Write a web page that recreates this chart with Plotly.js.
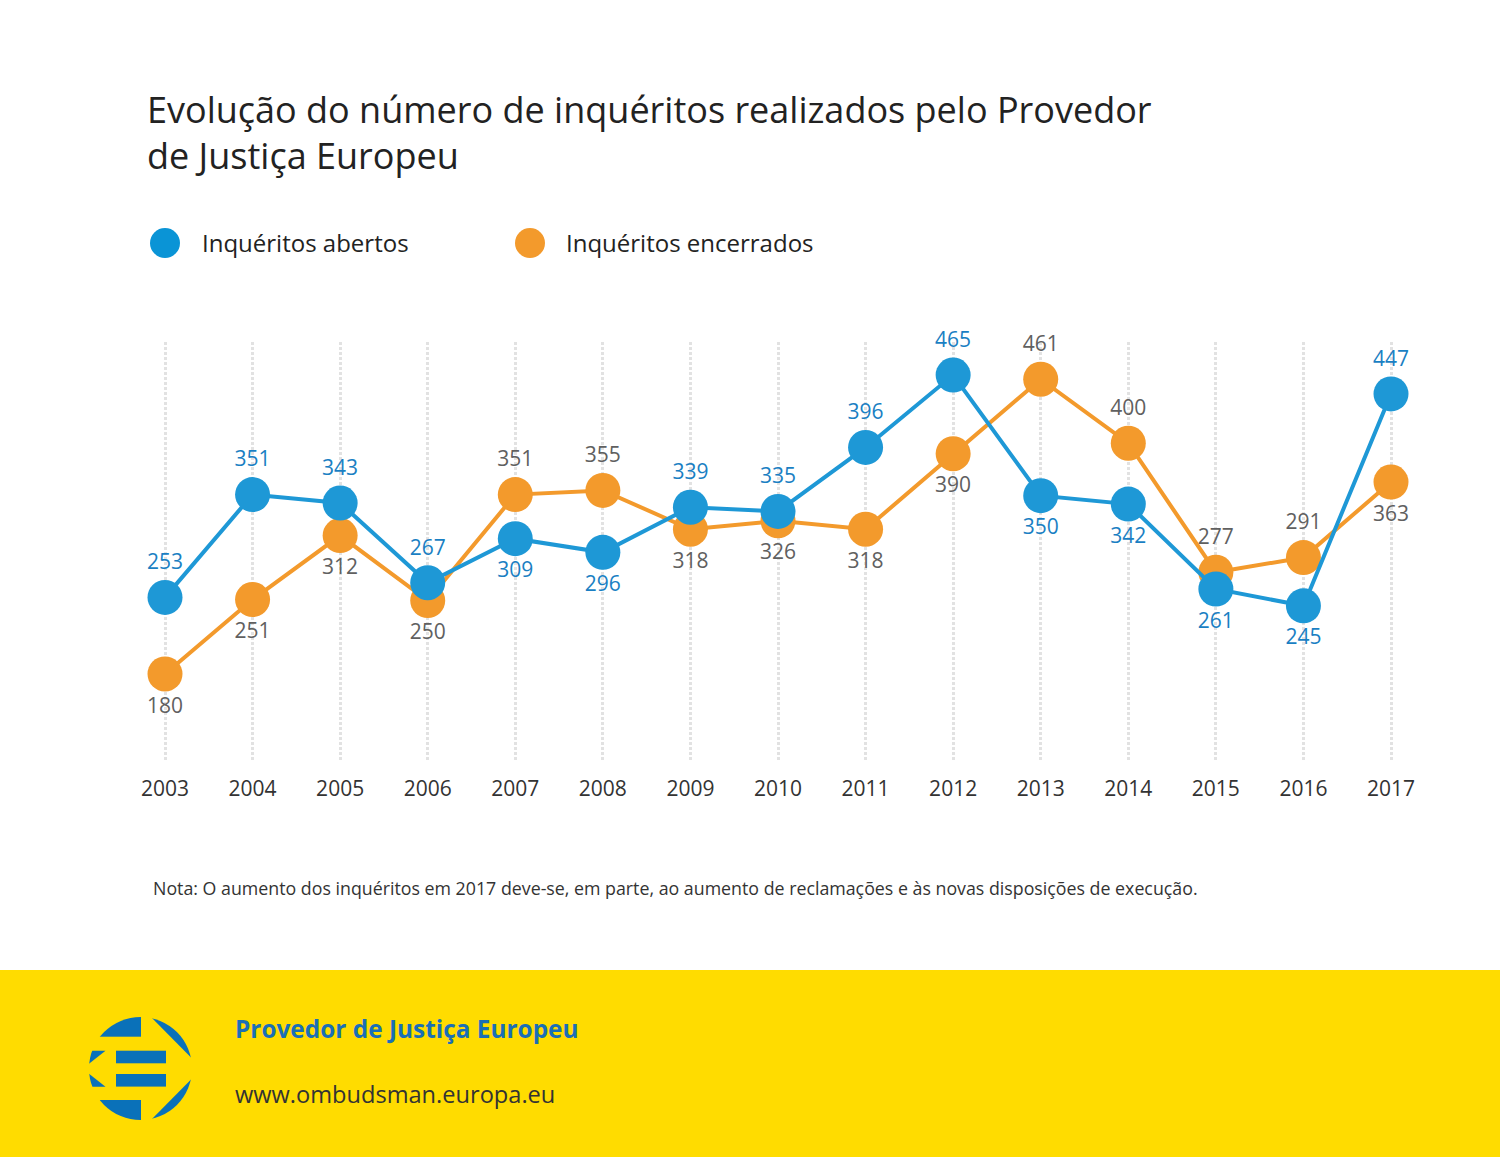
<!DOCTYPE html>
<html>
<head>
<meta charset="utf-8">
<script src="https://cdn.plot.ly/plotly-3.0.1.min.js"></script>
<style>
html,body{margin:0;padding:0;background:#fff;}
#wrap{position:relative;width:1500px;height:1157px;}
#chart{position:absolute;left:0;top:0;width:1500px;height:1157px;}
#logo{position:absolute;left:0;top:0;pointer-events:none;}
</style>
</head>
<body>
<div id="wrap">
<div id="chart"></div>
<svg id="logo" width="1500" height="1157" viewBox="0 0 1500 1157">
  <defs><clipPath id="circ"><circle cx="140.5" cy="1068.5" r="51.5"/></clipPath></defs>
  <g clip-path="url(#circ)" fill="#0a71b9">
    <rect x="85" y="1012" width="56" height="24.7"/>
    <polygon points="146,1012 200,1012 200,1066.5"/>
    <polygon points="146,1125 200,1125 200,1070.5"/>
    <rect x="85" y="1100" width="56" height="26"/>
    <rect x="116" y="1050.7" width="50" height="12.6"/>
    <rect x="116" y="1074" width="50" height="12.6"/>
    <polygon points="85,1050.7 105.5,1050.7 85,1067"/>
    <polygon points="85,1086.7 105.5,1086.7 85,1070.5"/>
  </g>
</svg>
</div>
<script>
const years = [2003,2004,2005,2006,2007,2008,2009,2010,2011,2012,2013,2014,2015,2016,2017];
const opened = [253,351,343,267,309,296,339,335,396,465,350,342,261,245,447];
const closed = [180,251,312,250,351,355,318,326,318,390,461,400,277,291,363];
const openedPos = ['top center','top center','top center','top center','bottom center','bottom center','top center','top center','top center','top center','bottom center','bottom center','bottom center','bottom center','top center'];
const closedPos = ['bottom center','bottom center','bottom center','bottom center','top center','top center','bottom center','bottom center','bottom center','bottom center','top center','top center','top center','top center','bottom center'];
const seriesNames = ['Inquéritos abertos','Inquéritos encerrados'];

const W = 1500, H = 1157;
const M = {l:140, r:84, t:342, b:397};
const pw = W - M.l - M.r, ph = H - M.t - M.b;
const px = x => (x - M.l) / pw;
const py = y => (H - M.b - y) / ph;

const BLUE = '#1e98d6', ORANGE = '#f39a2c';
const FONT = '"Open Sans", "Noto Sans", sans-serif';

const traces = [
  {x: years, y: closed, type:'scatter', mode:'lines+markers+text', name: seriesNames[1],
   line:{color:ORANGE, width:4}, marker:{color:ORANGE, size:35},
   text: closed.map(String), textposition: closedPos,
   textfont:{family:FONT, size:21, color:'#606060'}, cliponaxis:false, hoverinfo:'x+y'},
  {x: years, y: opened, type:'scatter', mode:'lines+markers+text', name: seriesNames[0],
   line:{color:BLUE, width:4}, marker:{color:BLUE, size:35},
   text: opened.map(String), textposition: openedPos,
   textfont:{family:FONT, size:21, color:'#1a7fc3'}, cliponaxis:false, hoverinfo:'x+y'}
];

const layout = {
  width: W, height: H,
  margin: M,
  paper_bgcolor:'#ffffff', plot_bgcolor:'#ffffff',
  showlegend:false,
  font:{family:FONT, color:'#222'},
  title:{text:'Evolução do número de inquéritos realizados pelo Provedor<br>de Justiça Europeu',
    font:{family:FONT, size:36, weight:500, color:'#222222'},
    xref:'container', yref:'container', x:147/W, xanchor:'left', y:1-122.5/H, yanchor:'middle'},
  xaxis:{range:[2003-25/87.57, 2017+25/87.57], tickvals: years, ticktext: years.map(String),
    showgrid:true, gridcolor:'#e2e2e2', gridwidth:3, griddash:'3px,2px',
    zeroline:false, showline:false, ticks:'outside', ticklen:10, tickcolor:'rgba(0,0,0,0)',
    tickfont:{family:FONT, size:21, color:'#333333'}, fixedrange:true},
  yaxis:{range:[98, 496.5], showgrid:false, zeroline:false, showline:false,
    showticklabels:false, ticks:'', fixedrange:true},
  shapes:[
    {type:'circle', xref:'paper', yref:'paper', x0:px(150), x1:px(180), y0:py(258), y1:py(228),
     fillcolor:'#0a94d6', line:{width:0}},
    {type:'circle', xref:'paper', yref:'paper', x0:px(515), x1:px(545), y0:py(258), y1:py(228),
     fillcolor:'#f39a2c', line:{width:0}},
    {type:'rect', xref:'paper', yref:'paper', x0:px(0), x1:px(1500), y0:py(1157), y1:py(970),
     fillcolor:'#ffdc00', line:{width:0}, layer:'below'}
  ],
  annotations:[
    {text:seriesNames[0], xref:'paper', yref:'paper', x:px(200), y:py(243), xanchor:'left', yanchor:'middle',
     showarrow:false, font:{family:FONT, size:24, color:'#222222'}},
    {text:seriesNames[1], xref:'paper', yref:'paper', x:px(564), y:py(243), xanchor:'left', yanchor:'middle',
     showarrow:false, font:{family:FONT, size:24, color:'#222222'}},
    {text:'Nota: O aumento dos inquéritos em 2017 deve-se, em parte, ao aumento de reclamações e às novas disposições de execução.',
     xref:'paper', yref:'paper', x:px(151), y:py(888), xanchor:'left', yanchor:'middle',
     showarrow:false, font:{family:FONT, size:17.8, color:'#333333'}},
    {text:'<b>Provedor de Justiça Europeu</b>', xref:'paper', yref:'paper', x:px(233), y:py(1028), xanchor:'left', yanchor:'middle',
     showarrow:false, font:{family:FONT, size:24.4, color:'#1a6fb6'}},
    {text:'www.ombudsman.europa.eu', xref:'paper', yref:'paper', x:px(233), y:py(1094), xanchor:'left', yanchor:'middle',
     showarrow:false, font:{family:FONT, size:23.6, color:'#333333'}}
  ]
};

Plotly.newPlot('chart', traces, layout, {staticPlot:true, displayModeBar:false});
</script>
</body>
</html>
